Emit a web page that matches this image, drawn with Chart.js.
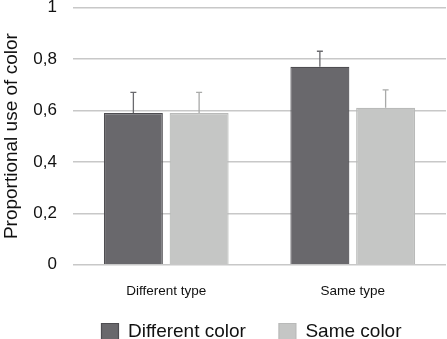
<!DOCTYPE html>
<html>
<head>
<meta charset="utf-8">
<script src="https://cdn.jsdelivr.net/npm/chart.js@4/dist/chart.umd.min.js"></script>
<style>
  html, body { margin: 0; padding: 0; background: #fff; }
  #wrap { width: 447px; height: 339px; }
</style>
</head>
<body>
<div id="wrap"><canvas id="colorChart" width="447" height="339"></canvas></div>
<script>
// values
var categories = ["Different type", "Same type"];
var seriesNames = ["Different color", "Same color"];
var diffColor = [0.59, 0.77];
var sameColor = [0.59, 0.61];
var diffColorErr = [0.08, 0.06];
var sameColorErr = [0.08, 0.07];
var yTicks = [0, 0.2, 0.4, 0.6, 0.8, 1];

var FONT = "'Liberation Sans', Arial, Helvetica, sans-serif";

// draws the upper error whiskers on top of each bar
var errorBars = {
  id: 'errorBars',
  afterDatasetsDraw: function(chart) {
    var ctx = chart.ctx;
    var yScale = chart.scales.y;
    chart.data.datasets.forEach(function(ds, i) {
      var meta = chart.getDatasetMeta(i);
      meta.data.forEach(function(bar, j) {
        var v = ds.data[j];
        var top = yScale.getPixelForValue(v + ds.errors[j]);
        var base = yScale.getPixelForValue(v);
        ctx.save();
        ctx.strokeStyle = ds.errorColor;
        ctx.lineWidth = 1.3;
        ctx.beginPath();
        ctx.moveTo(bar.x, base);
        ctx.lineTo(bar.x, top);
        ctx.moveTo(bar.x - 3, top);
        ctx.lineTo(bar.x + 3, top);
        ctx.stroke();
        ctx.restore();
      });
    });
  }
};

// legend in the original sits centred under the plot and close to the labels
var legendShift = {
  id: 'legendShift',
  afterLayout: function(chart) {
    var lg = chart.legend;
    lg.left += 28.5;
    lg.right += 28.5;
    lg.top -= 27.5;
    lg.bottom -= 27.5;
  }
};

window.onload = function() {
  var ctx = document.getElementById('colorChart').getContext('2d');
  var chart = new Chart(ctx, {
    type: 'bar',
    data: {
      labels: categories,
      datasets: [{
        label: seriesNames[0],
        data: diffColor,
        errors: diffColorErr,
        errorColor: '#6a6a6e',
        backgroundColor: '#69686c',
        borderColor: '#4e4d51',
        borderWidth: 1.2,
        categoryPercentage: 0.705,
        barPercentage: 0.897
      }, {
        label: seriesNames[1],
        data: sameColor,
        errors: sameColorErr,
        errorColor: '#a9aaa9',
        backgroundColor: '#c5c6c5',
        borderColor: '#b9bab9',
        borderWidth: 1.2,
        categoryPercentage: 0.705,
        barPercentage: 0.897
      }]
    },
    options: {
      responsive: false,
      animation: false,
      layout: { padding: { top: 0, right: 1, left: 0, bottom: -40 } },
      plugins: {
        legend: {
          position: 'bottom',
          labels: {
            boxWidth: 17,
            boxHeight: 17,
            padding: 33,
            color: '#111',
            font: { family: FONT, size: 19 }
          }
        },
        tooltip: { enabled: false }
      },
      scales: {
        x: {
          grid: { display: false, drawTicks: false },
          border: { display: false },
          ticks: {
            color: '#111',
            padding: 18,
            font: { family: FONT, size: 13.5 }
          }
        },
        y: {
          min: 0,
          max: 1,
          afterBuildTicks: function(axis) {
            axis.ticks = yTicks.map(function(v) { return { value: v }; });
          },
          afterFit: function(axis) {
            axis.width = 73;
            axis.paddingTop = 7.5;
          },
          grid: { color: '#c8c8c8', lineWidth: 1.5, drawTicks: false },
          border: { display: false },
          ticks: {
            color: '#111',
            padding: 16,
            font: { family: FONT, size: 17 },
            callback: function(v) { return String(v).replace('.', ','); }
          },
          title: {
            display: true,
            text: 'Proportional use of color',
            color: '#111',
            padding: { top: 0, bottom: 10 },
            font: { family: FONT, size: 19 }
          }
        }
      }
    },
    plugins: [errorBars, legendShift]
  });
};
</script>
</body>
</html>
